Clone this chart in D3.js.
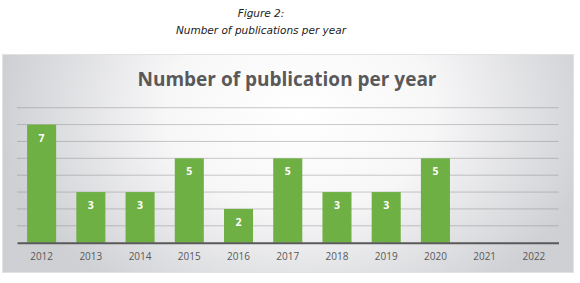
<!DOCTYPE html>
<html>
<head>
<meta charset="utf-8">
<script src="https://cdn.jsdelivr.net/npm/d3@7"></script>
<style>
  body { margin: 0; background: #fff; }
</style>
</head>
<body>
<div id="chart"></div>
<script>
const years = ["2012", "2013", "2014", "2015", "2016", "2017", "2018", "2019", "2020", "2021", "2022"];
const counts = [7, 3, 3, 5, 2, 5, 3, 3, 5, null, null];
const gridTicks = [1, 2, 3, 4, 5, 6, 7, 8];

const W = 580, H = 283;
const svg = d3.select("#chart").append("svg")
  .attr("width", W)
  .attr("height", H);

// caption above the chart
svg.append("text")
  .attr("x", 261).attr("y", 17)
  .attr("text-anchor", "middle")
  .attr("font-family", "DejaVu Sans, sans-serif")
  .attr("font-style", "italic")
  .attr("font-size", 10.5)
  .attr("fill", "#222")
  .text("Figure 2:");
svg.append("text")
  .attr("x", 261).attr("y", 34)
  .attr("text-anchor", "middle")
  .attr("font-family", "DejaVu Sans, sans-serif")
  .attr("font-style", "italic")
  .attr("font-size", 10.5)
  .attr("fill", "#222")
  .text("Number of publications per year");

// chart area background (gray edges, white middle)
const defs = svg.append("defs");
const grad = defs.append("radialGradient")
  .attr("id", "bg")
  .attr("gradientUnits", "userSpaceOnUse")
  .attr("cx", 300).attr("cy", 110).attr("r", 300)
  .attr("gradientTransform", "translate(300,110) scale(1,0.75) translate(-300,-110)");
grad.append("stop").attr("offset", "0%").attr("stop-color", "#ffffff");
grad.append("stop").attr("offset", "45%").attr("stop-color", "#f7f7f8");
grad.append("stop").attr("offset", "100%").attr("stop-color", "#cfd0d4");

svg.append("rect")
  .attr("x", 2.5).attr("y", 54.5)
  .attr("width", 571).attr("height", 218)
  .attr("fill", "url(#bg)")
  .attr("stroke", "#e2e2e2");

svg.append("text")
  .attr("x", 287).attr("y", 86)
  .attr("text-anchor", "middle")
  .attr("font-family", "Open Sans, sans-serif")
  .attr("font-weight", "bold")
  .attr("font-size", 19)
  .attr("fill", "#595959")
  .text("Number of publication per year");

const margin = { left: 17, right: 21.5, top: 107.7, bottom: 40.3 };
const x = d3.scaleBand()
  .domain(years)
  .range([margin.left, W - margin.right])
  .paddingInner(0.41)
  .paddingOuter(0.205);

const y = d3.scaleLinear()
  .domain([0, 8])
  .range([H - margin.bottom, margin.top]);

// gridlines
svg.append("g")
  .selectAll("line")
  .data(gridTicks)
  .join("line")
  .attr("x1", margin.left)
  .attr("x2", W - margin.right)
  .attr("y1", d => y(d))
  .attr("y2", d => y(d))
  .attr("stroke", "#8a8a8a")
  .attr("stroke-opacity", 0.45)
  .attr("stroke-width", 1);

const data = years.map((yr, i) => ({ year: yr, value: counts[i] })).filter(d => d.value != null);

svg.append("g")
  .attr("fill", "#6eb043")
  .selectAll("rect")
  .data(data)
  .join("rect")
  .attr("x", d => x(d.year))
  .attr("y", d => y(d.value))
  .attr("width", x.bandwidth())
  .attr("height", d => y(0) - y(d.value));

svg.append("g")
  .selectAll("text")
  .data(data)
  .join("text")
  .attr("x", d => x(d.year) + x.bandwidth() / 2)
  .attr("y", d => y(d.value) + 17)
  .attr("text-anchor", "middle")
  .attr("font-family", "Open Sans, sans-serif")
  .attr("font-weight", "bold")
  .attr("font-size", 10.5)
  .attr("fill", "#ffffff")
  .text(d => d.value);

// x axis
const xAxis = svg.append("g")
  .attr("transform", `translate(0,${y(0)})`)
  .call(d3.axisBottom(x).tickSize(0).tickPadding(10));
xAxis.select(".domain")
  .attr("stroke", "#595959")
  .attr("stroke-width", 2);
xAxis.selectAll("text")
  .attr("font-family", "Open Sans, sans-serif")
  .attr("font-size", 10)
  .attr("fill", "#595959");
</script>
</body>
</html>
